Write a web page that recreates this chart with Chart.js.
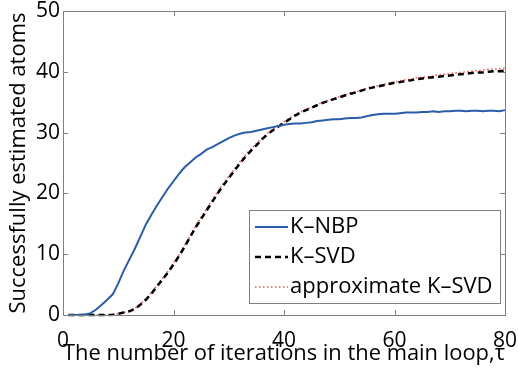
<!DOCTYPE html>
<html lang="en">
<head>
    <meta charset="UTF-8">
    <title>Successfully estimated atoms</title>
    <script src="https://cdn.jsdelivr.net/npm/chart.js@4.4.1/dist/chart.umd.min.js"></script>
    <style>
        body { margin: 0; background: #fff; }
        #wrap { width: 518px; height: 369px; }
    </style>
</head>
<body>
<div id="wrap"><canvas id="canvas" width="518" height="369"></canvas></div>
<script>
    // iterations of the main loop (tau)
    const iterations = Array.from({length: 80}, (_, i) => i + 1);

    const kNbp = [
        0, 0, 0, 0.1, 0.3, 0.9, 1.7, 2.5, 3.4, 5.2,
        7.3, 9.1, 10.9, 12.9, 14.9, 16.5, 18.0, 19.4, 20.8, 22.0,
        23.2, 24.3, 25.1, 25.9, 26.5, 27.2, 27.6, 28.1, 28.6, 29.1,
        29.5, 29.8, 30.0, 30.1, 30.3, 30.5, 30.7, 30.9, 31.1, 31.3,
        31.4, 31.5, 31.5, 31.6, 31.7, 31.9, 32.0, 32.1, 32.2, 32.2,
        32.3, 32.4, 32.4, 32.5, 32.7, 32.9, 33.0, 33.1, 33.1, 33.1,
        33.2, 33.3, 33.3, 33.3, 33.4, 33.4, 33.5, 33.4, 33.5, 33.5,
        33.6, 33.6, 33.5, 33.6, 33.6, 33.5, 33.6, 33.6, 33.5, 33.7
    ];

    const kSvd = [
        0, 0, 0, 0, 0, 0, 0, 0, 0.05, 0.2,
        0.4, 0.6, 1.0, 1.7, 2.5, 3.5, 4.7, 5.8, 7.0, 8.3,
        9.7, 11.2, 12.8, 14.4, 15.8, 17.2, 18.6, 20.0, 21.3, 22.5,
        23.7, 24.9, 26.0, 27.0, 27.9, 28.9, 29.7, 30.4, 31.0, 31.6,
        32.2, 32.8, 33.3, 33.7, 34.1, 34.5, 34.9, 35.2, 35.5, 35.8,
        36.1, 36.4, 36.6, 36.9, 37.2, 37.4, 37.6, 37.8, 38.0, 38.2,
        38.3, 38.5, 38.6, 38.8, 38.9, 39.0, 39.1, 39.2, 39.3, 39.4,
        39.5, 39.6, 39.7, 39.8, 39.9, 39.9, 40.0, 40.1, 40.1, 40.2
    ];

    const approxKSvd = [
        0, 0, 0, 0, 0, 0, 0, 0, 0.05, 0.2,
        0.4, 0.7, 1.1, 1.8, 2.6, 3.7, 4.9, 6.0, 7.2, 8.5,
        9.9, 11.4, 13.0, 14.6, 16.1, 17.5, 18.9, 20.3, 21.6, 22.8,
        24.0, 25.2, 26.3, 27.3, 28.2, 29.1, 29.9, 30.6, 31.2, 31.8,
        32.4, 32.9, 33.4, 33.8, 34.2, 34.6, 35.0, 35.3, 35.6, 35.9,
        36.2, 36.5, 36.7, 37.0, 37.3, 37.5, 37.7, 37.9, 38.1, 38.3,
        38.5, 38.7, 38.8, 39.0, 39.1, 39.2, 39.3, 39.5, 39.6, 39.7,
        39.8, 39.9, 40.0, 40.1, 40.2, 40.3, 40.4, 40.4, 40.5, 40.6
    ];

    const xTicks = [0, 20, 40, 60, 80];
    const yTicks = [0, 10, 20, 30, 40, 50];
    const seriesNames = ['K\u2013NBP', 'K\u2013SVD', 'approximate K\u2013SVD'];

    const FONT = '"Open Sans"';
    const AXIS_COLOR = '#808080';

    function points(values) {
        return values.map((v, i) => ({x: iterations[i], y: v}));
    }

    // box around the axes with inward ticks on all four sides, plus the legend
    const frame = {
        id: 'frame',
        afterDatasetsDraw(chart) {
            const ctx = chart.ctx;
            const a = chart.chartArea;
            const xs = chart.scales.x, ys = chart.scales.y;
            const len = 5;
            ctx.save();
            ctx.strokeStyle = AXIS_COLOR;
            ctx.lineWidth = 1;
            ctx.strokeRect(Math.round(a.left) + 0.5, Math.round(a.top) + 0.5,
                Math.round(a.right - a.left), Math.round(a.bottom - a.top));
            ctx.beginPath();
            xTicks.forEach(t => {
                const px = Math.round(xs.getPixelForValue(t)) + 0.5;
                ctx.moveTo(px, a.bottom); ctx.lineTo(px, a.bottom - len);
                ctx.moveTo(px, a.top); ctx.lineTo(px, a.top + len);
            });
            yTicks.forEach(t => {
                const py = Math.round(ys.getPixelForValue(t)) + 0.5;
                ctx.moveTo(a.left, py); ctx.lineTo(a.left + len, py);
                ctx.moveTo(a.right, py); ctx.lineTo(a.right - len, py);
            });
            ctx.stroke();

            // legend
            const box = {x: 249.5, y: 210.5, w: 251, h: 93};
            ctx.fillStyle = '#fff';
            ctx.fillRect(box.x, box.y, box.w, box.h);
            ctx.strokeStyle = AXIS_COLOR;
            ctx.strokeRect(box.x, box.y, box.w, box.h);
            ctx.font = '22px ' + FONT;
            ctx.textBaseline = 'middle';
            ctx.textAlign = 'left';
            chart.data.datasets.forEach((ds, i) => {
                const y = 227 + i * 30;
                ctx.save();
                ctx.strokeStyle = ds.borderColor;
                ctx.lineWidth = ds.borderWidth;
                ctx.setLineDash(ds.borderDash || []);
                ctx.beginPath();
                ctx.moveTo(255, y); ctx.lineTo(288, y);
                ctx.stroke();
                ctx.restore();
                ctx.fillStyle = '#000';
                ctx.fillText(seriesNames[i], 290, y);
            });
            ctx.restore();
        }
    };

    new Chart('canvas', {
        type: 'line',
        data: {
            datasets: [
                {
                    label: seriesNames[0],
                    data: points(kNbp),
                    borderColor: '#2a5caa',
                    borderWidth: 2,
                    pointRadius: 0,
                    tension: 0,
                    clip: false
                },
                {
                    label: seriesNames[1],
                    data: points(kSvd),
                    borderColor: '#000',
                    borderWidth: 2.5,
                    borderDash: [6, 4],
                    pointRadius: 0,
                    tension: 0,
                    clip: false
                },
                {
                    label: seriesNames[2],
                    data: points(approxKSvd),
                    borderColor: '#ff4d4d',
                    borderWidth: 1.5,
                    borderDash: [1.5, 2.5],
                    pointRadius: 0,
                    tension: 0,
                    clip: false
                }
            ]
        },
        options: {
            responsive: false,
            animation: false,
            layout: {padding: {top: 11, right: 13, left: 0, bottom: 0}},
            plugins: {legend: {display: false}, tooltip: {enabled: false}},
            scales: {
                x: {
                    type: 'linear',
                    min: 0, max: 80,
                    grid: {display: false, drawTicks: false},
                    border: {display: false},
                    afterBuildTicks: s => { s.ticks = xTicks.map(v => ({value: v})); },
                    afterFit: s => {
                        s.height = 54;
                        s.paddingLeft = 0;
                        s.paddingRight = 0;
                    },
                    ticks: {
                        color: '#000', padding: 13, maxRotation: 0,
                        font: {family: FONT, size: 21}
                    },
                    title: {
                        display: true,
                        text: 'The number of iterations in the main loop,\u03c4',
                        color: '#000',
                        font: {family: FONT, size: 22},
                        padding: {top: 0, bottom: 2}
                    }
                },
                y: {
                    min: 0, max: 50,
                    grid: {display: false, drawTicks: false},
                    border: {display: false},
                    afterBuildTicks: s => { s.ticks = yTicks.map(v => ({value: v})); },
                    afterFit: s => {
                        s.width = 63;
                        s.paddingTop = 0;
                        s.paddingBottom = 0;
                    },
                    ticks: {
                        color: '#000', padding: 3,
                        font: {family: FONT, size: 21}
                    },
                    title: {
                        display: true,
                        text: 'Successfully estimated atoms',
                        color: '#000',
                        font: {family: FONT, size: 22},
                        padding: {top: 6, bottom: 0}
                    }
                }
            }
        },
        plugins: [frame]
    });
</script>
</body>
</html>
